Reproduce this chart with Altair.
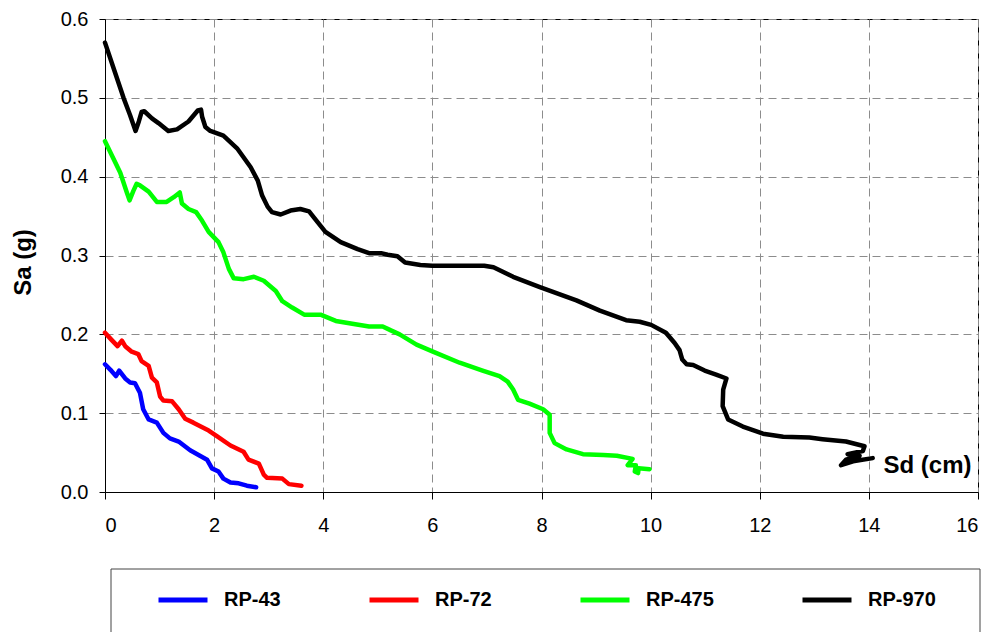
import altair as alt
import pandas as pd

series = ["RP-43", "RP-72", "RP-475", "RP-970"]
colors = ["#0000FF", "#FF0000", "#00FF00", "#000000"]

rp43_sd = [0.00, 0.10, 0.20, 0.26, 0.37, 0.46, 0.55, 0.64, 0.70, 0.80, 0.95, 1.07, 1.19,
           1.35, 1.56, 1.87, 1.96, 2.08, 2.17, 2.30, 2.45, 2.60, 2.77]
rp43_sa = [0.162, 0.155, 0.147, 0.154, 0.144, 0.139, 0.138, 0.126, 0.105, 0.092, 0.088, 0.075, 0.068,
           0.064, 0.053, 0.041, 0.030, 0.026, 0.017, 0.012, 0.011, 0.008, 0.006]

rp72_sd = [0.00, 0.12, 0.23, 0.31, 0.37, 0.49, 0.61, 0.67, 0.80, 0.86, 0.95, 1.01, 1.07, 1.23,
           1.35, 1.47, 1.62, 1.90, 2.05, 2.30, 2.54, 2.63, 2.82, 2.91, 2.97, 3.25, 3.37, 3.60]
rp72_sa = [0.202, 0.193, 0.185, 0.192, 0.185, 0.178, 0.175, 0.166, 0.160, 0.145, 0.139, 0.121, 0.116, 0.115,
           0.105, 0.093, 0.088, 0.078, 0.071, 0.059, 0.051, 0.041, 0.036, 0.022, 0.018, 0.017, 0.010, 0.008]

rp475_sd = [0.00, 0.14, 0.28, 0.40, 0.45, 0.52, 0.58, 0.64, 0.80, 0.95, 1.13, 1.26, 1.37, 1.41,
            1.53, 1.67, 1.78, 1.90, 2.08, 2.17, 2.27, 2.36, 2.54, 2.73, 2.91, 3.13, 3.25, 3.43,
            3.65, 3.95, 4.23, 4.56, 4.84, 5.09, 5.24, 5.40, 5.71, 6.01, 6.50, 6.92, 7.23, 7.38,
            7.48, 7.57, 7.78, 8.03, 8.15, 8.15, 8.24, 8.46, 8.76, 9.13, 9.38, 9.67, 9.58, 9.73,
            9.71, 9.77, 9.78, 9.98]
rp475_sa = [0.445, 0.425, 0.405, 0.380, 0.370, 0.382, 0.391, 0.389, 0.381, 0.368, 0.368, 0.374, 0.380, 0.366,
            0.359, 0.355, 0.344, 0.330, 0.317, 0.304, 0.283, 0.271, 0.270, 0.273, 0.268, 0.255, 0.242, 0.234,
            0.225, 0.225, 0.217, 0.213, 0.210, 0.210, 0.205, 0.200, 0.187, 0.178, 0.164, 0.154, 0.147, 0.140,
            0.130, 0.117, 0.112, 0.105, 0.098, 0.075, 0.062, 0.054, 0.048, 0.047, 0.046, 0.042, 0.034, 0.034,
            0.026, 0.024, 0.030, 0.029]

rp970_sd = [0.00, 0.17, 0.34, 0.46, 0.56, 0.62, 0.67, 0.72, 0.86, 0.98, 1.16, 1.32, 1.53, 1.70,
            1.76, 1.78, 1.84, 1.93, 2.17, 2.42, 2.67, 2.80, 2.88, 2.98, 3.06, 3.22, 3.40, 3.58,
            3.74, 3.90, 4.04, 4.32, 4.63, 4.84, 5.06, 5.18, 5.36, 5.50, 5.78, 6.00, 6.95, 7.12,
            7.48, 7.97, 8.64, 9.07, 9.55, 9.80, 10.01, 10.28, 10.44, 10.53, 10.58, 10.66, 10.78,
            10.99, 11.20, 11.39, 11.33, 11.32, 11.42, 11.69, 12.06, 12.43, 12.91, 13.15, 13.58,
            13.92, 13.89, 13.61, 13.83, 13.58, 13.49, 13.71, 14.07]
rp970_sa = [0.570, 0.535, 0.500, 0.478, 0.458, 0.470, 0.482, 0.483, 0.474, 0.468, 0.458, 0.460, 0.470, 0.484,
            0.485, 0.476, 0.463, 0.458, 0.452, 0.436, 0.412, 0.395, 0.376, 0.362, 0.355, 0.352, 0.357, 0.359,
            0.356, 0.342, 0.330, 0.317, 0.308, 0.303, 0.303, 0.301, 0.299, 0.291, 0.288, 0.287, 0.287, 0.285,
            0.273, 0.260, 0.243, 0.230, 0.218, 0.216, 0.212, 0.202, 0.189, 0.180, 0.168, 0.162, 0.161,
            0.154, 0.149, 0.144, 0.130, 0.109, 0.092, 0.083, 0.074, 0.070, 0.069, 0.067, 0.064,
            0.058, 0.052, 0.048, 0.046, 0.041, 0.034, 0.039, 0.043]

x_ticks = [0, 2, 4, 6, 8, 10, 12, 14, 16]
y_ticks = [0.0, 0.1, 0.2, 0.3, 0.4, 0.5, 0.6]

rows = []
for name, xs, ys in zip(series, [rp43_sd, rp72_sd, rp475_sd, rp970_sd],
                        [rp43_sa, rp72_sa, rp475_sa, rp970_sa]):
    for i, (xv, yv) in enumerate(zip(xs, ys)):
        rows.append({"series": name, "sd": xv, "sa": yv, "i": i})
df = pd.DataFrame(rows)

FONT = "Liberation Sans"

lines = alt.Chart(df).mark_line(strokeWidth=4.5, strokeJoin="round", strokeCap="round").encode(
    x=alt.X("sd:Q", scale=alt.Scale(domain=[0, 16], nice=False, zero=False),
            axis=alt.Axis(values=x_ticks, format="d", title="Sd (cm)",
                          titleX=778, titleY=-20, titleAlign="left", titleBaseline="alphabetic",
                          titleAngle=0, titleFontSize=24, titleFontWeight="bold",
                          labelFontSize=20, labelPadding=16, tickSize=7)),
    y=alt.Y("sa:Q", scale=alt.Scale(domain=[0, 0.6], nice=False),
            axis=alt.Axis(values=y_ticks, format=".1f", title="Sa (g)",
                          titleX=-82, titleY=243, titleAlign="center", titleBaseline="middle",
                          titleAngle=270, titleFontSize=24, titleFontWeight="bold",
                          labelFontSize=20, labelPadding=11, tickSize=6)),
    color=alt.Color("series:N", scale=alt.Scale(domain=series, range=colors),
                    legend=alt.Legend(title=None, orient="none", legendX=51, legendY=554,
                                      direction="horizontal", symbolType="stroke",
                                      symbolSize=2401, symbolStrokeWidth=5,
                                      labelFontSize=20, labelFontWeight="bold", labelOffset=14,
                                      columnPadding=78, labelColor="black", padding=0,
                                      labelFont=FONT)),
    order=alt.Order("i:Q"),
)

box = alt.Chart(alt.Data(values=[{}])).mark_rect(
    fillOpacity=0, stroke="#444444", strokeWidth=1
).encode(
    x=alt.value(6), x2=alt.value(875), y=alt.value(550), y2=alt.value(720)
)

chart = alt.layer(box, lines).properties(
    width=873, height=473,
    padding={"left": 105, "top": 19, "right": 14, "bottom": 140},
    autosize=alt.AutoSizeParams(type="none"),
).configure(
    font=FONT,
).configure_view(
    stroke="#000000", strokeWidth=1
).configure_axis(
    grid=True, gridColor="#8c8c8c", gridDash=[8, 5], gridWidth=1,
    domainColor="#000000", domainWidth=1, tickColor="#000000", tickWidth=1,
    labelColor="#000000", titleColor="#000000", labelFont=FONT, titleFont=FONT,
)

chart.save("out.html", embed_options={"renderer": "svg", "actions": False})
